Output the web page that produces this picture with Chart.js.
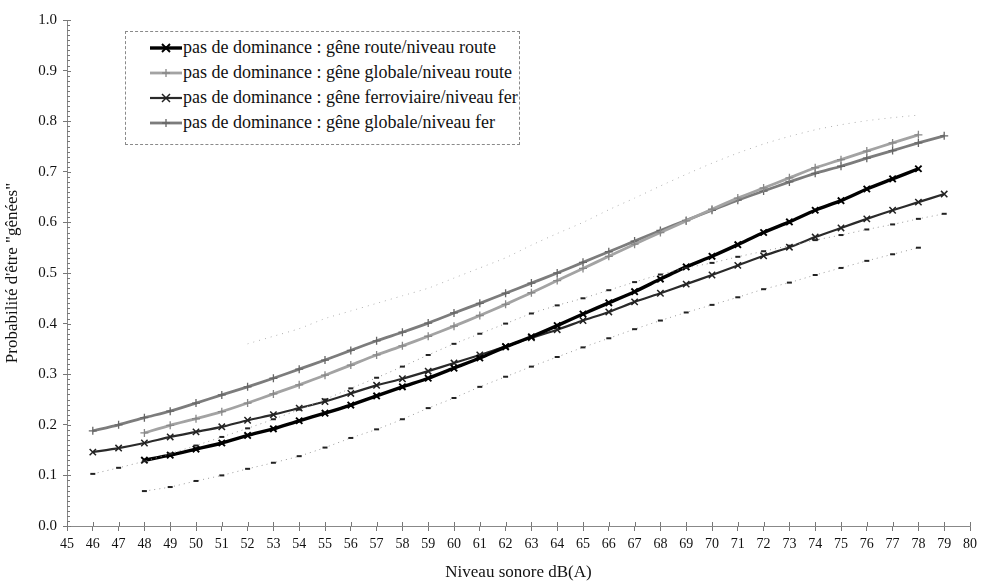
<!DOCTYPE html>
<html>
<head>
<meta charset="utf-8">
<script src="https://cdn.jsdelivr.net/npm/chart.js@4/dist/chart.umd.min.js"></script>
<style>
  html, body { margin: 0; padding: 0; background: #fff; }
  #wrap { position: relative; width: 982px; height: 583px; }
  #legend {
    position: absolute; left: 125px; top: 31px; width: 395px;
    border: 1px dashed #8a8a8a; background: #fff;
    font-family: "Liberation Serif", "Times New Roman", serif; font-size: 18px; color: #111;
    padding: 3px 0 9px 0; box-sizing: border-box; white-space: nowrap;
  }
  .row { height: 25px; display: flex; align-items: center; white-space: nowrap; }
  .row svg { margin-left: 24px; margin-right: 1px; flex: none; }
</style>
</head>
<body>
<div id="wrap">
  <canvas id="c" width="982" height="583"></canvas>
  <div id="legend"></div>
</div>
<script>
// ---- data ----
const xRoute = [48,49,50,51,52,53,54,55,56,57,58,59,60,61,62,63,64,65,66,67,68,69,70,71,72,73,74,75,76,77,78];
const xFer   = [46,47,48,49,50,51,52,53,54,55,56,57,58,59,60,61,62,63,64,65,66,67,68,69,70,71,72,73,74,75,76,77,78,79];
const xUpper = [52,53,54,55,56,57,58,59,60,61,62,63,64,65,66,67,68,69,70,71,72,73,74,75,76,77,78];

const routeRoute = [0.130,0.140,0.152,0.164,0.179,0.192,0.208,0.223,0.239,0.257,0.275,0.292,0.312,0.332,0.354,0.374,0.396,0.419,0.441,0.463,0.488,0.512,0.533,0.556,0.580,0.601,0.624,0.643,0.666,0.686,0.706];
const globaleRoute = [0.184,0.199,0.212,0.226,0.243,0.261,0.279,0.298,0.318,0.338,0.356,0.375,0.395,0.416,0.438,0.461,0.485,0.509,0.533,0.557,0.580,0.603,0.626,0.648,0.668,0.688,0.708,0.724,0.741,0.757,0.773];
const ferFer = [0.146,0.154,0.164,0.176,0.186,0.196,0.209,0.220,0.233,0.246,0.262,0.278,0.291,0.306,0.322,0.338,0.355,0.372,0.388,0.406,0.423,0.443,0.460,0.478,0.496,0.515,0.534,0.551,0.571,0.589,0.607,0.624,0.640,0.656];
const globaleFer = [0.188,0.200,0.214,0.227,0.243,0.259,0.275,0.292,0.310,0.328,0.347,0.366,0.383,0.401,0.421,0.440,0.460,0.480,0.500,0.521,0.542,0.563,0.584,0.604,0.624,0.644,0.662,0.680,0.697,0.711,0.727,0.742,0.757,0.771];
// faint dotted lines (not in legend)
const routeLow = [0.069,0.077,0.089,0.100,0.113,0.125,0.138,0.155,0.174,0.191,0.211,0.233,0.253,0.275,0.295,0.315,0.334,0.353,0.371,0.389,0.406,0.422,0.437,0.452,0.468,0.481,0.496,0.510,0.524,0.537,0.550];
const ferLow = [0.103,0.115,0.128,0.143,0.159,0.176,0.193,0.211,0.230,0.250,0.272,0.293,0.315,0.338,0.360,0.380,0.400,0.420,0.436,0.450,0.466,0.482,0.497,0.510,0.520,0.532,0.543,0.554,0.565,0.575,0.586,0.596,0.607,0.617];
const upperDotted = [0.360,0.375,0.390,0.410,0.425,0.440,0.455,0.470,0.490,0.510,0.530,0.555,0.578,0.600,0.625,0.648,0.672,0.695,0.717,0.737,0.755,0.770,0.783,0.793,0.801,0.807,0.812];

const seriesLabels = [
  "pas de dominance : gêne route/niveau route",
  "pas de dominance : gêne globale/niveau route",
  "pas de dominance : gêne ferroviaire/niveau fer",
  "pas de dominance : gêne globale/niveau fer"
];
const xTickValues = [45,46,47,48,49,50,51,52,53,54,55,56,57,58,59,60,61,62,63,64,65,66,67,68,69,70,71,72,73,74,75,76,77,78,79,80];

const pts = (xs, ys) => xs.map((x, i) => ({ x: x, y: ys[i] }));
const SERIF = '"Liberation Serif", "Times New Roman", serif';

const datasets = [
  { label: "upper", data: pts(xUpper, upperDotted), borderColor: '#b0b0b0', borderWidth: 1, borderDash: [1,5],
    pointRadius: 0, legend: false },
  { label: "lowR", data: pts(xRoute, routeLow), borderColor: '#9a9a9a', borderWidth: 1, borderDash: [1,4],
    pointStyle: 'line', pointRadius: 2.5, pointBorderWidth: 2, pointBorderColor: '#222', pointBackgroundColor: '#222', legend: false },
  { label: "lowF", data: pts(xFer, ferLow), borderColor: '#9a9a9a', borderWidth: 1, borderDash: [1,4],
    pointStyle: 'line', pointRadius: 2.5, pointBorderWidth: 2, pointBorderColor: '#222', pointBackgroundColor: '#222', legend: false },
  { label: seriesLabels[3], data: pts(xFer, globaleFer), borderColor: '#7c7c7c', borderWidth: 2.8,
    pointStyle: 'cross', pointRadius: 4, pointBorderWidth: 1.3, pointBorderColor: '#666', legend: true, order: 4 },
  { label: seriesLabels[1], data: pts(xRoute, globaleRoute), borderColor: '#a3a3a3', borderWidth: 2.8,
    pointStyle: 'cross', pointRadius: 4, pointBorderWidth: 1.3, pointBorderColor: '#888', legend: true, order: 2 },
  { label: seriesLabels[2], data: pts(xFer, ferFer), borderColor: '#2a2a2a', borderWidth: 2.2,
    pointStyle: 'crossRot', pointRadius: 4.5, pointBorderWidth: 1.5, pointBorderColor: '#222', legend: true, order: 3 },
  { label: seriesLabels[0], data: pts(xRoute, routeRoute), borderColor: '#000', borderWidth: 3.4,
    pointStyle: 'crossRot', pointRadius: 4.5, pointBorderWidth: 1.9, pointBorderColor: '#000', legend: true, order: 1 }
];
datasets.forEach(d => { d.fill = false; d.tension = 0.2; d.pointHoverRadius = d.pointRadius; d.backgroundColor = d.borderColor; });

const minorTicks = {
  id: 'minorTicks',
  afterDraw(chart) {
    const y = chart.scales.y, x = chart.scales.x, ctx = chart.ctx;
    ctx.save();
    ctx.strokeStyle = '#777'; ctx.lineWidth = 1;
    ctx.beginPath();
    for (let i = 0; i <= 100; i++) {
      const py = Math.round(y.getPixelForValue(i / 100)) + 0.5;
      const len = (i % 10 === 0) ? 4 : 3;
      ctx.moveTo(x.left, py); ctx.lineTo(x.left + len, py);
    }
    xTickValues.forEach(v => {
      const px = Math.round(x.getPixelForValue(v)) + 0.5;
      ctx.moveTo(px, y.bottom); ctx.lineTo(px, y.bottom - 4);
    });
    ctx.stroke();
    ctx.restore();
  }
};

const chart = new Chart(document.getElementById('c'), {
  type: 'line',
  data: { datasets: datasets },
  options: {
    responsive: false, animation: false, devicePixelRatio: 1,
    layout: { padding: { left: 0, right: 12, top: 20, bottom: 0 } },
    plugins: { legend: { display: false }, tooltip: { enabled: false } },
    scales: {
      x: {
        type: 'linear', min: 45, max: 80,
        afterBuildTicks: s => { s.ticks = xTickValues.map(v => ({ value: v })); },
        afterFit: s => { s.height = 57; },
        grid: { display: true, drawOnChartArea: false, drawTicks: true, tickLength: 5, color: '#777' },
        border: { color: '#888', width: 1 },
        ticks: { color: '#111', font: { family: SERIF, size: 14 }, padding: 5, maxRotation: 0, autoSkip: false },
        title: { display: true, text: 'Niveau sonore dB(A)', color: '#111', font: { family: SERIF, size: 17 }, padding: { top: 0, bottom: 0 } }
      },
      y: {
        min: 0, max: 1,
        ticks: { stepSize: 0.1, color: '#111', font: { family: SERIF, size: 15 }, padding: 6,
                 callback: v => Number(v).toFixed(1) },
        afterFit: s => { s.width = 67; },
        grid: { display: true, drawOnChartArea: false, drawTicks: true, tickLength: 4, color: '#777' },
        border: { color: '#888', width: 1 },
        title: { display: true, text: 'Probabilité d\'être "gênées"', color: '#111', font: { family: SERIF, size: 17 }, padding: { top: 2, bottom: 0 } }
      }
    }
  },
  plugins: [minorTicks]
});

// HTML legend built from the legend datasets
const legendEl = document.getElementById('legend');
seriesLabels.forEach(lbl => {
  const d = datasets.find(ds => ds.label === lbl);
  const row = document.createElement('div'); row.className = 'row';
  const w = 32, h = 14, cx = 16, cy = 7, r = 4;
  let marker = '';
  if (d.pointStyle === 'crossRot') {
    marker = `<path d="M${cx-r} ${cy-r} L${cx+r} ${cy+r} M${cx-r} ${cy+r} L${cx+r} ${cy-r}" stroke="${d.pointBorderColor}" stroke-width="${d.pointBorderWidth}"/>`;
  } else {
    marker = `<path d="M${cx-r} ${cy} L${cx+r} ${cy} M${cx} ${cy-r} L${cx} ${cy+r}" stroke="${d.pointBorderColor}" stroke-width="${d.pointBorderWidth}"/>`;
  }
  row.innerHTML = `<svg width="${w}" height="${h}"><line x1="0" y1="${cy}" x2="${w}" y2="${cy}" stroke="${d.borderColor}" stroke-width="${d.borderWidth}"/>${marker}</svg><span>${lbl}</span>`;
  legendEl.appendChild(row);
});
</script>
</body>
</html>
